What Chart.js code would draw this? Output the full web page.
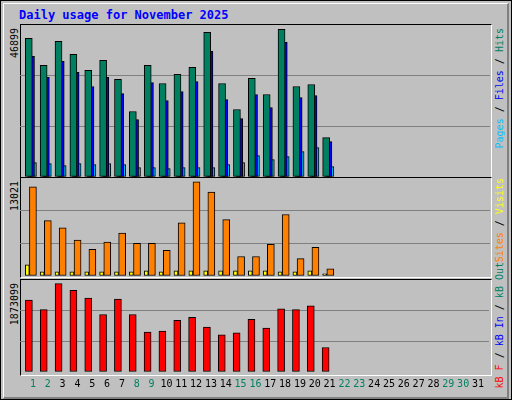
<!DOCTYPE html>
<html><head>
<script src="https://cdn.jsdelivr.net/npm/chart.js@4"></script>
<style>
body{margin:0;background:#fff}
#frame{position:absolute;left:0;top:0;width:510px;height:398px;border:1px solid #000;background:#c0c0c0}
#inner{position:absolute;left:2px;top:2px;width:503px;height:393px;border-top:1px solid #fff;border-left:1px solid #fff;border-right:2px solid #808080;border-bottom:2px solid #808080}
.t{position:absolute;font-family:"DejaVu Sans Mono",monospace;white-space:nowrap}
.panel{position:absolute;left:20px;width:470px;border:1px solid #fff;border-left-color:#000;border-top-color:#000}
.vl{position:absolute;font:10px "DejaVu Sans Mono",monospace;writing-mode:vertical-rl;transform:rotate(180deg);white-space:nowrap}
canvas{position:absolute}
</style>
</head><body>
<div id="frame"><div id="inner"></div></div>
<div class="t" style="left:19px;top:8px;font-size:12px;font-weight:bold;color:#0000ff">Daily usage for November 2025</div>
<div class="panel" style="top:24px;height:152px"></div>
<div class="panel" style="top:177px;height:99px"></div>
<div class="panel" style="top:279px;height:95px"></div>
<div class="vl" style="left:9px;top:28px;color:#000">46899</div>
<div class="vl" style="left:9px;top:181px;color:#000">13021</div>
<div class="vl" style="left:9px;top:283px;color:#000">1873099</div>
<div class="vl" style="left:494px;top:28px"><span style="color:#00c0ff">Pages</span> / <span style="color:#0000ff">Files</span> / <span style="color:#008060">Hits</span></div>
<div class="vl" style="left:494px;top:178px"><span style="color:#ff8000">Sites</span> / <span style="color:#ffff00">Visits</span></div>
<div class="vl" style="left:494px;top:262px"><span style="color:#ff0000">kB F</span> / <span style="color:#0000ff">kB In</span> / <span style="color:#008060">kB Out</span></div>
<canvas id="c1" style="left:20px;top:25px"></canvas>
<canvas id="c2" style="left:20px;top:178px"></canvas>
<canvas id="c3" style="left:20px;top:280px"></canvas>
<script>
const days = Array.from({length: 31}, (_, i) => i + 1);
const weekend = [1, 2, 8, 9, 15, 16, 22, 23, 29, 30];
const hits = [44034, 35439, 43079, 38941, 33848, 37031, 30983, 20797, 35439, 29710, 32574, 34803, 45944, 29710, 21433, 31301, 26208, 46899, 28755, 29391, 12520];
const files = [38304, 31620, 36713, 33211, 28755, 31620, 26526, 18250, 30028, 24298, 27163, 30346, 39896, 24616, 18568, 26208, 22070, 42761, 25253, 25890, 11247];
const pages = [4562, 4244, 3608, 4244, 3926, 4244, 3926, 2971, 2971, 2653, 2971, 2971, 2971, 3926, 4562, 6791, 5517, 6472, 8064, 9337, 3289];
const visits = [1557, 566, 566, 566, 566, 566, 566, 566, 708, 566, 708, 708, 708, 708, 708, 708, 708, 566, 566, 708, 283];
const sites = [12313, 7643, 6652, 4954, 3680, 4671, 5944, 4529, 4529, 3538, 7360, 13021, 11606, 7784, 2689, 2689, 4388, 8492, 2406, 3963, 991];
const kbytes = [1524400, 1319400, 1873099, 1729500, 1565400, 1216800, 1545000, 1216800, 847700, 868200, 1093800, 1155300, 950200, 786100, 827200, 1114300, 929700, 1339900, 1319400, 1401400, 519500];

const pts = (arr, off) => arr.map((v, i) => ({x: days[i] + off, y: v}));
const ds = (arr, off, color, w) => ({data: pts(arr, off), backgroundColor: color, borderColor: '#000', borderWidth: 1, barThickness: w, borderSkipped: false, grouped: false});

function panel(id, w, h, datasets, ymax, showDays) {
    const el = document.getElementById(id);
    el.width = w; el.height = h;
    el.style.width = w + 'px'; el.style.height = h + 'px';
    return new Chart(el, {
        type: 'bar',
        data: {datasets: datasets},
        options: {
            responsive: false, animation: false,
            layout: {padding: 0},
            plugins: {legend: {display: false}, tooltip: {enabled: false}},
            scales: {
                x: {
                    type: 'linear', min: 0.13, max: 31.74, offset: false,
                    display: showDays,
                    grid: {display: false, drawTicks: false}, border: {display: false},
                    afterBuildTicks: a => { a.ticks = days.map(d => ({value: d})); },
                    ticks: {
                        autoSkip: false, maxRotation: 0, padding: 6,
                        font: {family: 'DejaVu Sans Mono', size: 10},
                        color: c => weekend.includes(c.tick.value) ? '#008060' : '#000'
                    }
                },
                y: {
                    min: 0, max: ymax,
                    afterBuildTicks: a => { a.ticks = [0, 1, 2, 3].map(k => ({value: ymax * k / 3})); },
                    ticks: {display: false},
                    grid: {color: c => (c.index === 1 || c.index === 2) ? '#808080' : 'rgba(0,0,0,0)', drawTicks: false, lineWidth: 1},
                    border: {display: false}
                }
            }
        }
    });
}

panel('c1', 470, 152, [
    ds(hits, -0.28, '#008060', 7),
    ds(files, -0.13, '#0000ff', 7),
    ds(pages, 0, '#00c0ff', 7)
], 48278, false);

panel('c2', 470, 98, [
    ds(visits, -0.38, '#ffff00', 4),
    ds(sites, 0, '#ff8000', 7)
], 13540, false);

panel('c3', 470, 116, [
    ds(kbytes, -0.27, '#ff0000', 7)
], 1948296, true);
</script>
</body></html>
